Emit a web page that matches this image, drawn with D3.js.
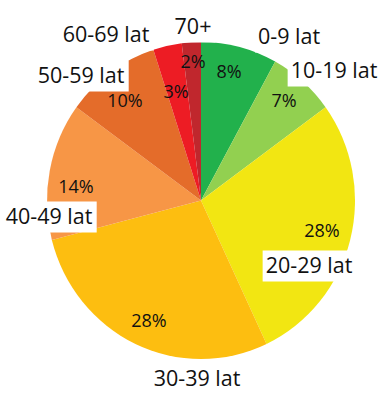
<!DOCTYPE html>
<html><head><meta charset="utf-8">
<script src="https://cdn.jsdelivr.net/npm/d3@7/dist/d3.min.js"></script>
<style>html,body{margin:0;padding:0;background:#fff;}svg{display:block;}</style>
</head><body><svg id="c" width="384" height="398"></svg>
<script>
const categories = ["0-9 lat","10-19 lat","20-29 lat","30-39 lat","40-49 lat","50-59 lat","60-69 lat","70+"];
const values = [8, 7, 28, 28, 14, 10, 3, 2];
const colors = ["#22b14c","#92d050","#f2e612","#fdbe10","#f79646","#e46c2a","#ed1c24","#c0272d"];

// layout (label anchor offsets from pie centre: [dx, baseline dy])
const catPos = [[88,-157],[133,-123],[108,72],[-4,185],[-152,23],[-120,-118],[-95,-159],[-8,-167]];
const pctPos = [[28,-123],[83,-94],[121,36],[-52,126],[-125,-8],[-76,-94],[-25,-103],[-8,-133]];

const W = 384, H = 398, cx = 201, cy = 200.5, rx = 154, ry = 158.5;
const svg = d3.select("#c");
const total = d3.sum(values);
const pie = d3.pie().sort(null).value(d => d)(values);
const arc = d3.arc().innerRadius(0).outerRadius(rx);

svg.append("g").attr("transform", `translate(${cx},${cy}) scale(1,${ry/rx})`)
  .selectAll("path").data(pie).join("path")
  .attr("d", arc).attr("fill", (d,i) => colors[i]);

const font = "'Open Sans', sans-serif";
// percent labels
svg.append("g").selectAll("text").data(pie).join("text")
  .attr("x", (d,i) => cx + pctPos[i][0]).attr("y", (d,i) => cy + pctPos[i][1])
  .attr("text-anchor","middle").attr("font-family",font).attr("font-size",18)
  .attr("fill","#111")
  .text(d => Math.round(d.data / total * 100) + "%");

// category labels with white boxes
const cg = svg.append("g");
categories.forEach((c,i) => {
  const g = cg.append("g");
  const t = g.append("text")
    .attr("x", cx + catPos[i][0]).attr("y", cy + catPos[i][1])
    .attr("text-anchor","middle").attr("font-family",font).attr("font-size",21.5)
    .attr("fill","#111").text(c);
  const b = t.node().getBBox();
  g.insert("rect","text").attr("x", b.x - 3).attr("y", b.y + 1)
    .attr("width", b.width + 7).attr("height", b.height + 2).attr("fill","#fff");
});
</script></body></html>
